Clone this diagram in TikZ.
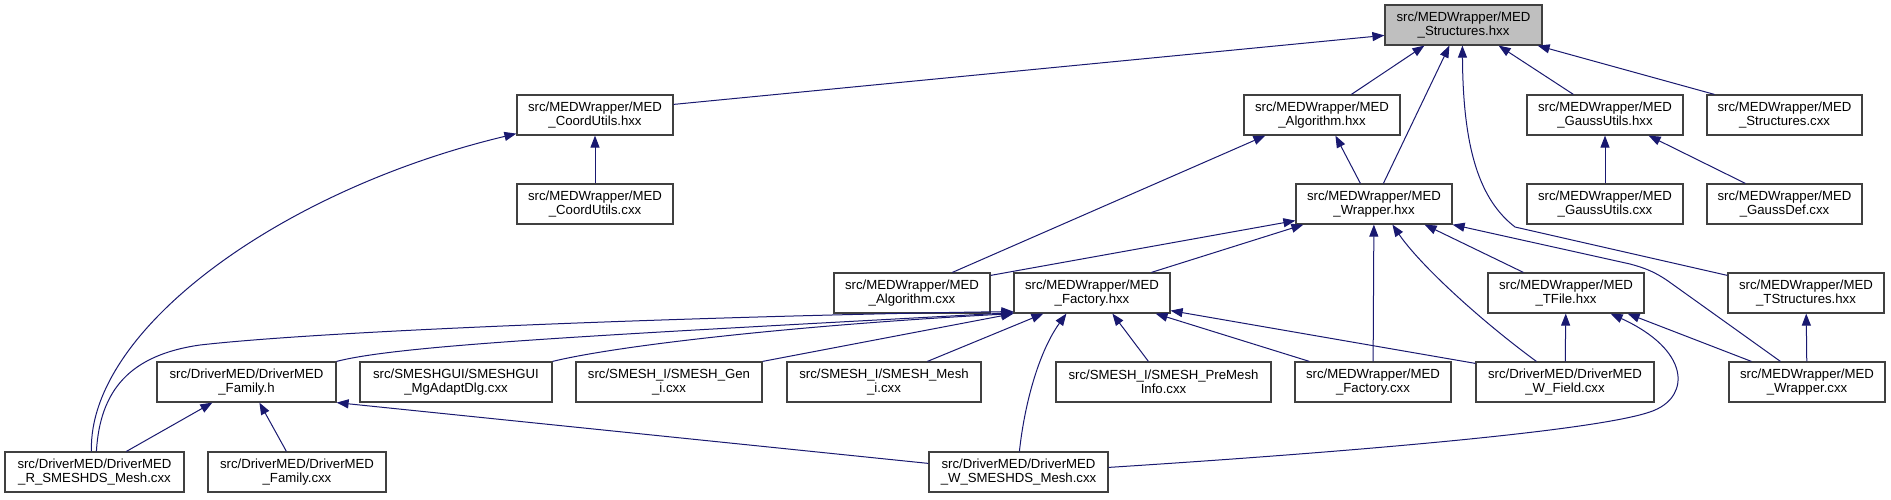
\documentclass[tikz,border=0pt]{standalone}
\usepackage{fontspec}
\setmainfont{Liberation Sans}
\usetikzlibrary{arrows.meta,calc}
\definecolor{edgeblue}{RGB}{25,25,112}
\definecolor{boxline}{RGB}{64,64,64}
\definecolor{rootfill}{RGB}{191,191,191}
\begin{document}
\begin{tikzpicture}[x=1pt,y=-1pt,
  box/.style={draw=boxline, line width=1.2pt, fill=white, minimum height=40pt, inner sep=0pt, align=center, font=\fontsize{13.2}{14}\selectfont},
  root/.style={box, fill=rootfill},
  edge/.style={draw=edgeblue, line width=1pt, -{Triangle[length=12pt,width=9pt]}}]
\fill[white] (0,0) rectangle (1891,499);
\useasboundingbox (0,0) rectangle (1891,499);

\node[root, minimum width=157pt] (S) at (1463.5,25) {src/MEDWrapper/MED\\\_Structures.hxx};
\node[box, minimum width=156pt] (CUh) at (595,115) {src/MEDWrapper/MED\\\_CoordUtils.hxx};
\node[box, minimum width=156pt] (Algh) at (1322,115) {src/MEDWrapper/MED\\\_Algorithm.hxx};
\node[box, minimum width=156pt] (GUh) at (1605,115) {src/MEDWrapper/MED\\\_GaussUtils.hxx};
\node[box, minimum width=155pt] (Sc) at (1784.5,115) {src/MEDWrapper/MED\\\_Structures.cxx};
\node[box, minimum width=156pt] (CUc) at (595,204) {src/MEDWrapper/MED\\\_CoordUtils.cxx};
\node[box, minimum width=156pt] (Wh) at (1374,204) {src/MEDWrapper/MED\\\_Wrapper.hxx};
\node[box, minimum width=156pt] (GUc) at (1605,204) {src/MEDWrapper/MED\\\_GaussUtils.cxx};
\node[box, minimum width=155pt] (GD) at (1784.5,204) {src/MEDWrapper/MED\\\_GaussDef.cxx};
\node[box, minimum width=156pt] (Algc) at (912,293) {src/MEDWrapper/MED\\\_Algorithm.cxx};
\node[box, minimum width=156pt] (Fh) at (1092,293) {src/MEDWrapper/MED\\\_Factory.hxx};
\node[box, minimum width=156pt] (TF) at (1566,293) {src/MEDWrapper/MED\\\_TFile.hxx};
\node[box, minimum width=156pt] (TS) at (1806,293) {src/MEDWrapper/MED\\\_TStructures.hxx};
\node[box, minimum width=179pt] (Famh) at (246.5,382) {src/DriverMED/DriverMED\\\_Family.h};
\node[box, minimum width=192pt] (Mg) at (456,382) {src/SMESHGUI/SMESHGUI\\\_MgAdaptDlg.cxx};
\node[box, minimum width=186pt] (Gen) at (669,382) {src/SMESH\_I/SMESH\_Gen\\\_i.cxx};
\node[box, minimum width=194pt] (Mesh) at (884,382) {src/SMESH\_I/SMESH\_Mesh\\\_i.cxx};
\node[box, minimum width=215pt] (Pre) at (1163.5,382) {src/SMESH\_I/SMESH\_PreMesh\\Info.cxx};
\node[box, minimum width=156pt] (Fc) at (1373,382) {src/MEDWrapper/MED\\\_Factory.cxx};
\node[box, minimum width=178pt] (WF) at (1565,382) {src/DriverMED/DriverMED\\\_W\_Field.cxx};
\node[box, minimum width=156pt] (Wc) at (1807,382) {src/MEDWrapper/MED\\\_Wrapper.cxx};
\node[box, minimum width=179pt] (R) at (94.5,472) {src/DriverMED/DriverMED\\\_R\_SMESHDS\_Mesh.cxx};
\node[box, minimum width=178pt] (Famc) at (297,472) {src/DriverMED/DriverMED\\\_Family.cxx};
\node[box, minimum width=179pt] (WS) at (1018.5,472) {src/DriverMED/DriverMED\\\_W\_SMESHDS\_Mesh.cxx};

% to MED_Structures.hxx
\draw[edge] ($(CUh.north east)+(0,10)$) -- ($(S.north west)+(0,31)$);
\draw[edge] ($(Algh.north west)+(108,0)$) -- ($(S.south west)+(40,0)$);
\draw[edge] ($(Wh.north west)+(88,0)$) -- ($(S.south west)+(65,0)$);
\draw[edge] ($(TS.north west)+(0,3)$) -- (1515,227) .. controls (1480,200) and (1463,150) .. ($(S.south west)+(78,0)$);
\draw[edge] ($(GUh.north west)+(47,0)$) -- ($(S.south east)+(-44,0)$);
\draw[edge] ($(Sc.north west)+(8,0)$) -- ($(S.south east)+(-5,0)$);
% to CoordUtils.hxx
\draw[edge] (CUc) -- (CUh);
\draw[edge] ($(R.north west)+(87,0)$) .. controls (88,330) and (280,190) .. ($(CUh.south west)+(0,-2)$);
% to Algorithm.hxx
\draw[edge] ($(Algc.north west)+(119,0)$) -- ($(Algh.south west)+(22,0)$);
\draw[edge] ($(Wh.north west)+(65,0)$) -- ($(Algh.south west)+(92,0)$);
% to GaussUtils.hxx
\draw[edge] (GUc) -- (GUh);
\draw[edge] ($(GD.north west)+(39,0)$) -- ($(GUh.south east)+(-35,0)$);
% to Wrapper.hxx
\draw[edge] ($(Algc.north east)+(0,3)$) -- ($(Wh.south west)+(0,-4)$);
\draw[edge] ($(Fh.north west)+(138,0)$) -- ($(Wh.south west)+(8,0)$);
\draw[edge] (Fc) -- (Wh);
\draw[edge] ($(WF.north west)+(61,0)$) .. controls (1480,320) and (1420,265) .. ($(Wh.south west)+(97,0)$);
\draw[edge] ($(TF.north west)+(36,0)$) -- ($(Wh.south east)+(-28,0)$);
\draw[edge] ($(Wc.north west)+(52,0)$) -- (1668,281) .. controls (1655,272) and (1645,268) .. (1630,264) -- (Wh.south east);
% to TStructures.hxx
\draw[edge] (Wc) -- (TS);
% to TFile.hxx
\draw[edge] ($(Wc.north west)+(23,0)$) -- ($(TF.south east)+(-17,0)$);
\draw[edge] (WF) -- (TF);
\draw[edge] ($(WS.north east)+(0,16)$) .. controls (1350,452) and (1610,430) .. (1655,410) .. controls (1690,395) and (1690,350) .. ($(TF.south east)+(-34,0)$);
% to Factory.hxx
\draw[edge] ($(R.north west)+(92,0)$) .. controls (100,390) and (130,355) .. (200,345) .. controls (350,328) and (800,314) .. ($(Fh.south west)+(0,-2)$);
\draw[edge] (Famh.north east) .. controls (400,345) and (600,335) .. ($(Fh.south west)+(0,-1)$);
\draw[edge] (Mg.north east) .. controls (620,345) and (800,325) .. (Fh.south west);
\draw[edge] (Gen.north east) -- (Fh.south west);
\draw[edge] ($(Mesh.north west)+(141,0)$) -- ($(Fh.south west)+(30,0)$);
\draw[edge] ($(WS.north west)+(91,0)$) .. controls (1025,400) and (1040,350) .. ($(Fh.south west)+(53,0)$);
\draw[edge] ($(Pre.north west)+(93,0)$) -- ($(Fh.south west)+(99,0)$);
\draw[edge] ($(Fc.north west)+(15,0)$) -- ($(Fh.south east)+(-15,0)$);
\draw[edge] ($(WF.north west)+(0,2)$) -- ($(Fh.south east)+(0,-3)$);
% to Family.h
\draw[edge] ($(R.north west)+(122,0)$) -- ($(Famh.south west)+(56,0)$);
\draw[edge] ($(Famc.north west)+(79,0)$) -- ($(Famh.south west)+(103,0)$);
\draw[edge] ($(WS.north west)+(0,12)$) -- (Famh.south east);
\end{tikzpicture}
\end{document}
